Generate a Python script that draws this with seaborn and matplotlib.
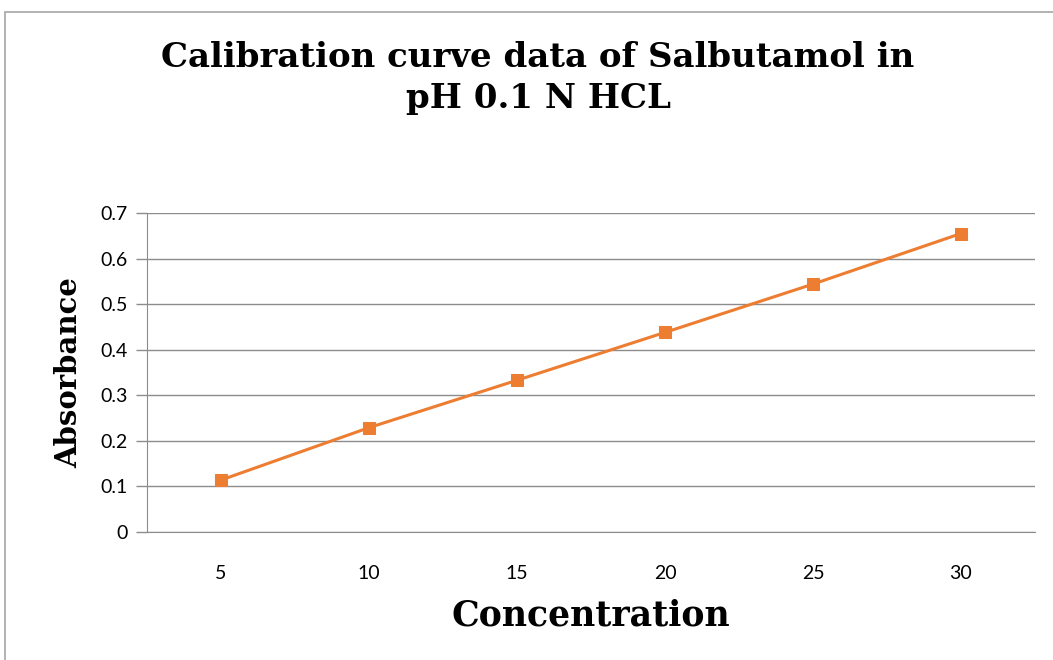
import numpy as np
import pandas as pd
import seaborn as sns
from matplotlib import pyplot as plt
from matplotlib.patches import Rectangle

# data
concentration = ['5', '10', '15', '20', '25', '30']
absorbance = [0.114, 0.229, 0.333, 0.438, 0.544, 0.655]
y_ticks = [0, 0.1, 0.2, 0.3, 0.4, 0.5, 0.6, 0.7]
y_tick_labels = ['0', '0.1', '0.2', '0.3', '0.4', '0.5', '0.6', '0.7']

df = pd.DataFrame({'Concentration': concentration, 'Absorbance': absorbance})

sns.set_style('white')
plt.rcParams['font.family'] = ['Lato', 'DejaVu Sans']
plt.rcParams['text.color'] = 'black'
plt.rcParams['axes.labelcolor'] = 'black'
plt.rcParams['xtick.color'] = 'black'
plt.rcParams['ytick.color'] = 'black'

fig = plt.figure(figsize=(10.53, 6.6), dpi=100)
W, H = 1053, 660
ax = fig.add_axes([147 / W, 1 - 532 / H, (1035 - 147) / W, (532 - 213) / H])

# outer chart border (Excel style)
fig.patches.append(Rectangle((5 / W, -0.05), 1.2, 1 - 12 / H + 0.05,
                             transform=fig.transFigure, fill=False,
                             edgecolor='#a6a6a6', linewidth=1.2))

sns.lineplot(data=df, x='Concentration', y='Absorbance', ax=ax,
             color='#ED7D31', linewidth=2.2, marker='s', markersize=9,
             markeredgecolor='#ED7D31')

ax.set_xlim(-0.5, 5.5)
ax.set_ylim(0, 0.7)
ax.set_yticks(y_ticks)
ax.set_yticklabels(y_tick_labels)
ax.yaxis.grid(True, color='#8c8c8c', linewidth=1.0)
ax.set_axisbelow(True)

for s in ['top', 'right']:
    ax.spines[s].set_visible(False)
ax.spines['left'].set_color('#8c8c8c')
ax.spines['bottom'].set_color('#8c8c8c')

ax.set_xticks(np.arange(6))
ax.set_xticklabels(concentration)
ax.tick_params(axis='x', length=0, pad=24, labelsize=14, labelcolor='black')
ax.tick_params(axis='y', length=8, width=1.0, color='#8c8c8c', direction='out',
               left=True, labelsize=14, pad=6, labelcolor='black')

serif = ['DejaVu Serif']
ax.set_xlabel('Concentration', fontsize=25, fontweight='bold', family=serif,
              labelpad=12, color='black')
ax.set_ylabel('Absorbance', fontsize=21, fontweight='bold', family=serif,
              labelpad=12, color='black')

fig.text(538 / W, 1 - 78 / H, 'Calibration curve data of Salbutamol in\npH 0.1 N HCL',
         ha='center', va='center', fontsize=24.5, fontweight='bold', family=serif,
         linespacing=1.3, color='black')

fig.savefig('out.png', dpi=100)
